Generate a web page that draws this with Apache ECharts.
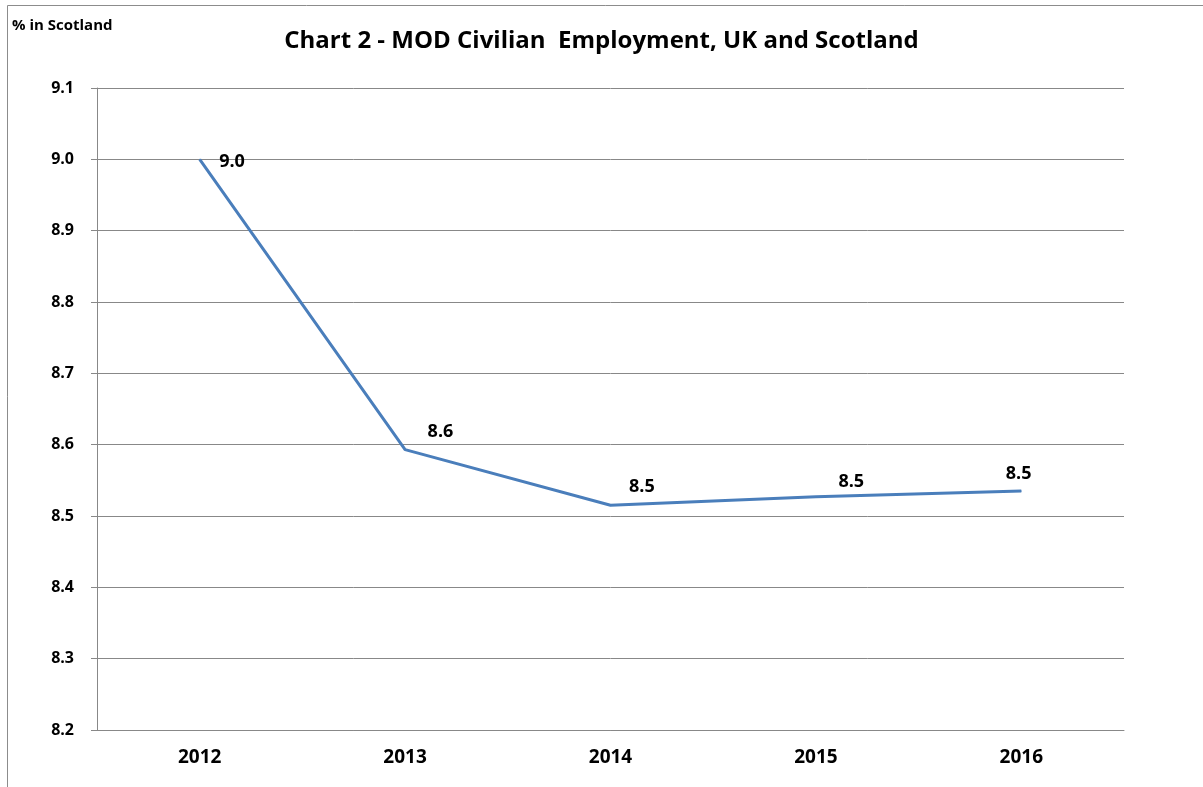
<!DOCTYPE html>
<html>
<head>
<meta charset="utf-8">
<script src="https://cdn.jsdelivr.net/npm/echarts@6/dist/echarts.min.js"></script>
<style>
  html, body { margin: 0; padding: 0; background: #fff; }
  #main { width: 1203px; height: 787px; }
</style>
</head>
<body>
<div id="main"></div>
<script>
// data
const years = ['2012', '2013', '2014', '2015', '2016'];
const shareScotland = [9.0, 8.593, 8.515, 8.527, 8.535];
const yTicks = [8.2, 8.3, 8.4, 8.5, 8.6, 8.7, 8.8, 8.9, 9.0, 9.1];

const font = '"Open Sans", sans-serif';

// Excel-like label nudges, one per point
const labelNudge = [[14, 3], [17, -18], [13, -18], [17, -15], [-21, -17]];

const chart = echarts.init(document.getElementById('main'));

const option = {
  animation: false,
  backgroundColor: '#fff',
  title: {
    text: 'Chart 2 - MOD Civilian  Employment, UK and Scotland',
    left: 'center',
    top: 24,
    textStyle: { fontFamily: font, fontSize: 24, fontWeight: 'bold', color: '#000' }
  },
  graphic: [
    {
      type: 'rect',
      shape: { x: 7.5, y: 5.5, width: 1300, height: 900 },
      style: { fill: 'none', stroke: '#8c8c8c', lineWidth: 1 },
      silent: true
    },
    {
      type: 'text',
      left: 12,
      top: 18,
      style: { text: '% in Scotland', fontFamily: font, fontSize: 15, fontWeight: 'bold', fill: '#000' }
    }
  ],
  grid: { left: 97, right: 79, top: 88, bottom: 57 },
  xAxis: {
    type: 'category',
    data: years,
    boundaryGap: true,
    axisLine: { lineStyle: { color: '#888', width: 1 } },
    axisTick: { show: false },
    axisLabel: { margin: 18, fontFamily: font, fontSize: 19, fontWeight: 'bold', color: '#000' }
  },
  yAxis: {
    type: 'value',
    min: yTicks[0],
    max: yTicks[yTicks.length - 1],
    interval: 0.1,
    axisLine: { show: true, lineStyle: { color: '#888', width: 1 } },
    axisTick: { show: true, length: 6, lineStyle: { color: '#888' } },
    splitLine: { lineStyle: { color: '#888', width: 1 } },
    axisLabel: {
      margin: 23,
      fontFamily: font, fontSize: 16, fontWeight: 'bold', color: '#000',
      formatter: v => v.toFixed(1)
    }
  },
  series: [{
    type: 'line',
    data: shareScotland.map((v, i) => ({
      value: v,
      label: { offset: labelNudge[i] }
    })),
    symbol: 'circle',
    symbolSize: 1,
    itemStyle: { color: '#4a7ebb' },
    lineStyle: { color: '#4a7ebb', width: 3 },
    label: {
      show: true,
      position: 'right',
      fontFamily: font, fontSize: 18, fontWeight: 'bold', color: '#000',
      formatter: p => p.value.toFixed(1)
    }
  }]
};

chart.setOption(option);
window.addEventListener('resize', () => chart.resize());
</script>
</body>
</html>
